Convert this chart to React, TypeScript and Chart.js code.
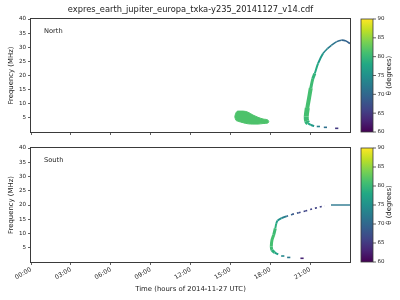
import React, { useEffect, useRef } from 'react';
import { Chart, registerables } from 'chart.js';

Chart.register(...registerables);

// ---------- text ----------
const TITLE = 'expres_earth_jupiter_europa_txka-y235_20141127_v14.cdf';
const X_TITLE = 'Time (hours of 2014-11-27 UTC)';
const Y_TITLE = 'Frequency (MHz)';
const CB_TITLE = 'θ (degrees)';
const NORTH_LABEL = 'North';
const SOUTH_LABEL = 'South';

// ---------- ticks ----------
const X_TICKS = [0, 3, 6, 9, 12, 15, 18, 21];
const X_TICK_LABELS = ['00:00', '03:00', '06:00', '09:00', '12:00', '15:00', '18:00', '21:00'];
const Y_TICKS = [5, 10, 15, 20, 25, 30, 35, 40];
const CB_TICKS = [60, 65, 70, 75, 80, 85, 90];
const CB_MIN = 60;
const CB_MAX = 90;

// ---------- North data (time in hours, frequency in MHz, theta in degrees) ----------
const northBlobTime = [15.33, 15.4, 15.58, 15.95, 16.33, 16.7, 17.08, 17.46, 17.83, 17.9];
const northBlobUpper = [5.4, 6.6, 7.4, 7.4, 7.0, 6.0, 5.2, 4.6, 4.2, 3.8];
const northBlobLower = [5.4, 4.3, 3.8, 3.3, 2.9, 2.8, 2.8, 3.0, 3.2, 3.6];
const northBlobTheta = 81.5;

const northArcTime = [21.3, 21.05, 20.85, 20.74, 20.71, 20.79, 20.92, 21.05, 21.2, 21.35, 21.6, 21.97, 22.3, 22.6, 23.0, 23.35, 23.7, 24.0];
const northArcFreq = [2.1, 2.5, 3.1, 3.9, 5.5, 8.5, 12.0, 15.5, 18.8, 20.7, 24.3, 27.8, 29.5, 30.7, 32.0, 32.5, 32.2, 31.3];
const northArcTheta = [75, 77, 79, 80, 81, 81, 81, 81, 80, 79, 77.5, 75, 73, 72, 71, 70, 69.5, 69];

const northDashTime = [21.62, 22.15, 23.0];
const northDashFreq = [1.95, 1.65, 1.3];
const northDashTheta = [73, 71, 65];

// ---------- South data ----------
const southArcTime = [18.6, 18.34, 18.13, 18.08, 18.13, 18.26, 18.38, 18.45, 18.55, 18.85, 19.2];
const southArcFreq = [2.7, 3.3, 4.2, 5.4, 7.7, 9.5, 11.8, 13.4, 14.5, 15.4, 16.0];
const southArcTheta = [76, 78, 80, 81, 81, 81, 80, 78, 76, 74, 72];

const southDotTime = [19.2, 19.64, 20.14, 20.64, 21.14, 21.65, 22.1];
const southDotFreq = [16.0, 16.7, 17.3, 17.9, 18.6, 19.2, 19.7];
const southDotTheta = [71, 69, 67, 66, 66, 66, 66];

const southDashTime = [18.94, 19.39, 20.39];
const southDashFreq = [2.1, 1.6, 1.3];
const southDashTheta = [74, 72, 63];

const southLineTime = [22.57, 24.0];
const southLineFreq = [20.0, 20.0];
const southLineTheta = [72, 72];

// ---------- styling ----------
const FONT = 'DejaVu Sans';
const AXIS_COLOR = '#3a3a3a';
const TEXT_COLOR = '#222';
const VIRIDIS = ['#440154', '#482475', '#414487', '#355f8d', '#2a788e', '#21918c', '#22a884', '#44bf70', '#7ad151', '#bddf26', '#fde725'];

function hexToRgb(h: string) {
  return [parseInt(h.slice(1, 3), 16), parseInt(h.slice(3, 5), 16), parseInt(h.slice(5, 7), 16)];
}
function viridis(t: number) {
  const c = Math.max(0, Math.min(1, t)) * (VIRIDIS.length - 1);
  const i = Math.min(VIRIDIS.length - 2, Math.floor(c));
  const f = c - i;
  const a = hexToRgb(VIRIDIS[i]);
  const b = hexToRgb(VIRIDIS[i + 1]);
  const m = a.map((v, k) => Math.round(v + (b[k] - v) * f));
  return `rgb(${m[0]},${m[1]},${m[2]})`;
}
const thetaColor = (th: number) => viridis((th - CB_MIN) / (CB_MAX - CB_MIN));

const pts = (xs: number[], ys: number[]) => xs.map((x, i) => ({ x, y: ys[i] }));

function lineSet(xs: number[], ys: number[], th: number[], widthFn: (f: number) => number, dash: number[] = []) {
  return {
    data: pts(xs, ys),
    showLine: true,
    fill: false,
    pointRadius: 0,
    borderWidth: 2,
    tension: 0.3,
    borderCapStyle: 'butt',
    borderDash: dash,
    borderColor: thetaColor(th[0]),
    segment: {
      borderColor: (c: any) => thetaColor((th[c.p0DataIndex] + th[c.p1DataIndex]) / 2),
      borderWidth: (c: any) => widthFn((ys[c.p0DataIndex] + ys[c.p1DataIndex]) / 2),
    },
  };
}

function dashSet(xs: number[], ys: number[], th: number[]) {
  return {
    data: pts(xs, ys),
    showLine: false,
    pointStyle: 'line',
    pointRadius: 1.6,
    pointBorderWidth: 1.6,
    pointBorderColor: th.map(thetaColor),
    pointBackgroundColor: th.map(thetaColor),
  };
}

function blobSets(xs: number[], lo: number[], hi: number[], th: number) {
  const col = thetaColor(th);
  const base = { showLine: true, pointRadius: 0, borderWidth: 1, borderColor: col, backgroundColor: col, cubicInterpolationMode: 'monotone' };
  return [
    { ...base, data: pts(xs, lo), fill: false },
    { ...base, data: pts(xs, hi), fill: '-1' },
  ];
}

const northWidth = (f: number) => (f < 3.2 ? 2 : f < 10 ? 5 : f < 16 ? 4 : f < 22 ? 3 : f < 28 ? 2 : 1.6);
const southWidth = (f: number) => (f < 3.2 ? 2 : f < 12.5 ? 3 : 2);

function decorPlugin(label: string, showTitle: boolean) {
  return {
    id: 'decor',
    afterDraw(chart: any) {
      const { ctx, chartArea: a } = chart;
      ctx.save();
      // frame
      ctx.strokeStyle = AXIS_COLOR;
      ctx.lineWidth = 1;
      ctx.strokeRect(a.left - 0.5, a.top - 0.5, a.right - a.left + 1, a.bottom - a.top + 1);
      // panel label
      ctx.fillStyle = TEXT_COLOR;
      ctx.font = `6.7px "${FONT}"`;
      ctx.textAlign = 'left';
      ctx.textBaseline = 'middle';
      ctx.fillText(label, a.left + 13, a.top + 12);
      // title
      if (showTitle) {
        ctx.font = `8.3px "${FONT}"`;
        ctx.textAlign = 'center';
        ctx.fillText(TITLE, (a.left + a.right) / 2, 10);
      }
      // colorbar
      const x0 = a.right + 11;
      const w = 12;
      const g = ctx.createLinearGradient(0, a.bottom, 0, a.top);
      VIRIDIS.forEach((c, i) => g.addColorStop(i / (VIRIDIS.length - 1), c));
      ctx.fillStyle = g;
      ctx.fillRect(x0, a.top, w, a.bottom - a.top);
      ctx.strokeStyle = AXIS_COLOR;
      ctx.lineWidth = 0.8;
      ctx.strokeRect(x0, a.top, w, a.bottom - a.top);
      ctx.font = `5.5px "${FONT}"`;
      ctx.fillStyle = TEXT_COLOR;
      ctx.textAlign = 'left';
      ctx.textBaseline = 'middle';
      ctx.lineWidth = 0.8;
      CB_TICKS.forEach((v) => {
        const y = a.bottom - ((v - CB_MIN) / (CB_MAX - CB_MIN)) * (a.bottom - a.top);
        ctx.beginPath();
        ctx.moveTo(x0 + w, y);
        ctx.lineTo(x0 + w + 3, y);
        ctx.stroke();
        ctx.fillText(String(v), x0 + w + 4.5, y);
      });
      ctx.translate(x0 + w + 16, (a.top + a.bottom) / 2);
      ctx.rotate(-Math.PI / 2);
      ctx.font = `6.9px "${FONT}"`;
      ctx.textAlign = 'center';
      ctx.fillText(CB_TITLE, 0, 0);
      ctx.restore();
    },
  };
}

function buildConfig(isNorth: boolean): any {
  const datasets: any[] = isNorth
    ? [
        ...blobSets(northBlobTime, northBlobLower, northBlobUpper, northBlobTheta),
        lineSet(northArcTime, northArcFreq, northArcTheta, northWidth),
        dashSet(northDashTime, northDashFreq, northDashTheta),
      ]
    : [
        lineSet(southArcTime, southArcFreq, southArcTheta, southWidth),
        lineSet(southDotTime, southDotFreq, southDotTheta, () => 1.6, [2, 3]),
        lineSet(southLineTime, southLineFreq, southLineTheta, () => 1.4),
        dashSet(southDashTime, southDashFreq, southDashTheta),
      ];
  const grid = { display: true, drawOnChartArea: false, drawTicks: true, tickLength: 3, color: AXIS_COLOR, lineWidth: 0.8 };
  return {
    type: 'line',
    data: { datasets },
    options: {
      responsive: false,
      animation: false,
      events: [],
      layout: { padding: { top: isNorth ? 19 : 8, right: 50, left: 0, bottom: 0 } },
      plugins: { legend: { display: false }, tooltip: { enabled: false }, title: { display: false } },
      scales: {
        x: {
          type: 'linear',
          min: 0,
          max: 24,
          border: { display: false },
          grid,
          afterBuildTicks: (s: any) => { s.ticks = X_TICKS.map((v) => ({ value: v })); },
          afterFit: (s: any) => { s.height = isNorth ? 8 : 38; },
          ticks: {
            display: !isNorth,
            autoSkip: false,
            maxRotation: 30,
            minRotation: 30,
            padding: 1,
            color: TEXT_COLOR,
            font: { family: FONT, size: 6.2 },
            callback: (_v: any, i: number) => X_TICK_LABELS[i],
          },
          title: {
            display: !isNorth,
            text: X_TITLE,
            color: TEXT_COLOR,
            font: { family: FONT, size: 6.9 },
            padding: { top: 0, bottom: 7 },
          },
        },
        y: {
          type: 'linear',
          min: 0,
          max: 40,
          border: { display: false },
          grid,
          afterBuildTicks: (s: any) => { s.ticks = Y_TICKS.map((v) => ({ value: v })); },
          afterFit: (s: any) => { s.width = 31; },
          ticks: {
            padding: 2,
            color: TEXT_COLOR,
            font: { family: FONT, size: 5.6 },
            callback: (_v: any, i: number) => String(Y_TICKS[i]),
          },
          title: {
            display: true,
            text: Y_TITLE,
            color: TEXT_COLOR,
            font: { family: FONT, size: 6.9 },
            padding: { top: 7, bottom: 0 },
          },
        },
      },
    },
    plugins: [decorPlugin(isNorth ? NORTH_LABEL : SOUTH_LABEL, isNorth)],
  };
}

export default function App() {
  const topRef = useRef<HTMLCanvasElement>(null);
  const botRef = useRef<HTMLCanvasElement>(null);
  useEffect(() => {
    const c1 = new Chart(topRef.current as HTMLCanvasElement, buildConfig(true));
    const c2 = new Chart(botRef.current as HTMLCanvasElement, buildConfig(false));
    return () => {
      c1.destroy();
      c2.destroy();
    };
  }, []);
  return (
    <div style={{ position: 'absolute', left: 0, top: 0, width: 400, height: 300, background: '#fff' }}>
      <canvas ref={topRef} width={400} height={140} style={{ display: 'block', width: 400, height: 140 }} />
      <canvas ref={botRef} width={400} height={160} style={{ display: 'block', width: 400, height: 160 }} />
    </div>
  );
}
